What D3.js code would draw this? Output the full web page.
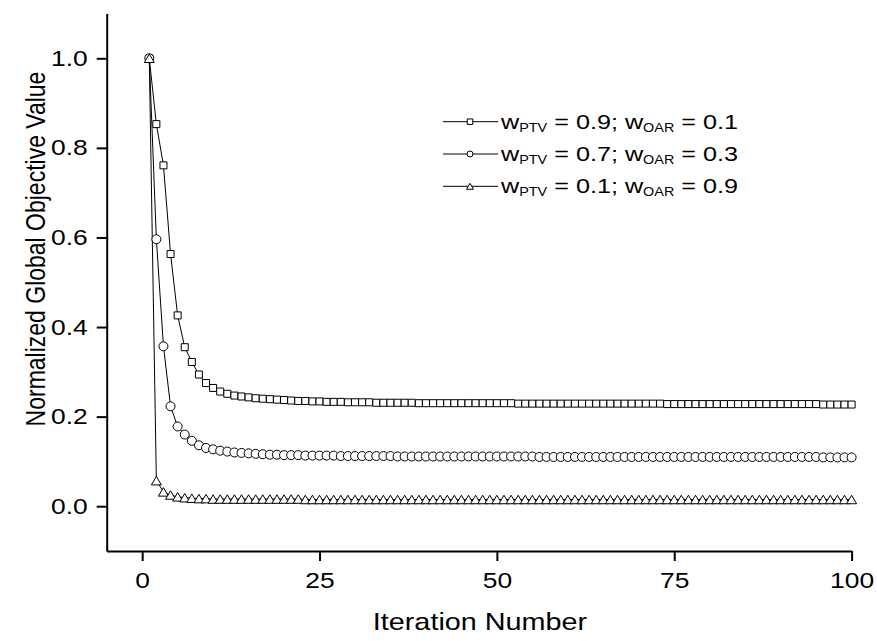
<!DOCTYPE html>
<html>
<head>
<meta charset="utf-8">
<script src="https://cdn.jsdelivr.net/npm/d3@7"></script>
<style>
body { margin: 0; background: #fff; }
svg { display: block; font-family: "Liberation Sans", Arial, sans-serif; }
</style>
</head>
<body>
<svg id="chart" width="877" height="641"></svg>
<script>
"use strict";

// ---- data ----
var iterations = d3.range(1, 101);

var wPtv09 = [
    1.000, 0.853, 0.761, 0.563, 0.426, 0.355, 0.322, 0.294, 0.275, 0.264,
    0.256, 0.251, 0.247, 0.245, 0.243, 0.241, 0.240, 0.239, 0.238, 0.237,
    0.236, 0.235, 0.235, 0.234, 0.234, 0.233, 0.233, 0.233, 0.232, 0.232,
    0.232, 0.232, 0.231, 0.231, 0.231, 0.231, 0.231, 0.231, 0.230, 0.230,
    0.230, 0.230, 0.230, 0.230, 0.230, 0.230, 0.230, 0.230, 0.230, 0.230,
    0.230, 0.230, 0.229, 0.229, 0.229, 0.229, 0.229, 0.229, 0.229, 0.229,
    0.229, 0.229, 0.229, 0.229, 0.229, 0.229, 0.229, 0.229, 0.229, 0.229,
    0.229, 0.229, 0.229, 0.228, 0.228, 0.228, 0.228, 0.228, 0.228, 0.228,
    0.228, 0.228, 0.228, 0.228, 0.228, 0.228, 0.228, 0.228, 0.228, 0.228,
    0.228, 0.228, 0.228, 0.228, 0.228, 0.227, 0.227, 0.227, 0.227, 0.227
];

var wPtv07 = [
    1.000, 0.596, 0.357, 0.223, 0.178, 0.160, 0.146, 0.136, 0.130, 0.127,
    0.124, 0.122, 0.120, 0.119, 0.118, 0.117, 0.116, 0.115, 0.115, 0.114,
    0.114, 0.114, 0.113, 0.113, 0.113, 0.113, 0.113, 0.112, 0.112, 0.112,
    0.112, 0.112, 0.112, 0.112, 0.112, 0.111, 0.111, 0.111, 0.111, 0.111,
    0.111, 0.111, 0.111, 0.111, 0.111, 0.111, 0.111, 0.111, 0.111, 0.111,
    0.111, 0.111, 0.111, 0.111, 0.111, 0.110, 0.110, 0.110, 0.110, 0.110,
    0.110, 0.110, 0.110, 0.110, 0.110, 0.110, 0.110, 0.110, 0.110, 0.110,
    0.110, 0.110, 0.110, 0.110, 0.110, 0.110, 0.110, 0.110, 0.110, 0.110,
    0.110, 0.110, 0.110, 0.110, 0.110, 0.110, 0.110, 0.110, 0.110, 0.110,
    0.110, 0.110, 0.110, 0.110, 0.110, 0.109, 0.109, 0.109, 0.109, 0.109
];

var wPtv01 = [
    1.000, 0.057, 0.032, 0.025, 0.021, 0.019, 0.018, 0.017, 0.017, 0.016,
    0.016, 0.016, 0.016, 0.016, 0.016, 0.016, 0.016, 0.016, 0.016, 0.016,
    0.016, 0.016, 0.015, 0.015, 0.015, 0.015, 0.015, 0.015, 0.015, 0.015,
    0.015, 0.015, 0.015, 0.015, 0.015, 0.015, 0.015, 0.015, 0.015, 0.015,
    0.015, 0.015, 0.015, 0.015, 0.015, 0.015, 0.015, 0.015, 0.015, 0.015,
    0.015, 0.015, 0.015, 0.015, 0.015, 0.015, 0.015, 0.015, 0.015, 0.015,
    0.015, 0.015, 0.015, 0.015, 0.015, 0.015, 0.015, 0.015, 0.015, 0.015,
    0.015, 0.015, 0.015, 0.015, 0.015, 0.015, 0.015, 0.015, 0.015, 0.015,
    0.015, 0.015, 0.015, 0.015, 0.015, 0.015, 0.015, 0.015, 0.015, 0.015,
    0.015, 0.015, 0.015, 0.015, 0.015, 0.015, 0.015, 0.015, 0.015, 0.015
];

var xTicks = [0, 25, 50, 75, 100];
var xMinorTicks = [12.5, 37.5, 62.5, 87.5];
var yTicks = [0.0, 0.2, 0.4, 0.6, 0.8, 1.0];
var yMinorTicks = [-0.1, 0.1, 0.3, 0.5, 0.7, 0.9, 1.1];

var legendPtv = ["0.9", "0.7", "0.1"];
var legendOar = ["0.1", "0.3", "0.9"];
var symbols = ["square", "circle", "triangle"];

// ---- setup ----
var svg = d3.select("#chart");
var STRETCH = 1.2;   // the original text is a bit wider than plain Arial

var x = d3.scaleLinear().domain([-5, 100]).range([106.7, 851.6]);
var y = d3.scaleLinear().domain([-0.1, 1.1]).range([551, 13.5]);

function stretch(sel, s) {
    sel.each(function () {
        var t = d3.select(this);
        var tx = +t.attr("x") || 0, ty = +t.attr("y") || 0;
        t.attr("transform", "translate(" + tx + "," + ty + ") scale(" + s + ",1) translate(" + (-tx) + "," + (-ty) + ")");
    });
}

function symbolPath(kind, size) {
    // size is the full width of the marker
    var h = size / 2;
    if (kind == "square") {
        return "M" + (-h) + "," + (-h) + "H" + h + "V" + h + "H" + (-h) + "Z";
    } else if (kind == "circle") {
        return "M" + (-h) + ",0A" + h + "," + h + " 0 1,0 " + h + ",0A" + h + "," + h + " 0 1,0 " + (-h) + ",0Z";
    }
    var th = size * 0.85 / 2;
    return "M0," + (-th) + "L" + h + "," + th + "L" + (-h) + "," + th + "Z";
}

// ---- axes ----
var gx = svg.append("g").attr("transform", "translate(0,551)");
gx.call(d3.axisBottom(x).tickValues(xMinorTicks).tickSize(5).tickSizeOuter(0).tickFormat(""));
gx.call(d3.axisBottom(x).tickValues(xTicks).tickSize(10).tickSizeOuter(0).tickPadding(11).tickFormat(d3.format("d")));

var gy = svg.append("g").attr("transform", "translate(106.7,0)");
gy.call(d3.axisLeft(y).tickValues(yMinorTicks).tickSize(5).tickSizeOuter(0).tickFormat(""));
gy.call(d3.axisLeft(y).tickValues(yTicks).tickSize(10).tickSizeOuter(0).tickPadding(9).tickFormat(d3.format(".1f")));

svg.selectAll(".domain, .tick line").attr("stroke", "#000").attr("stroke-width", 2);
svg.selectAll(".tick text")
    .attr("font-family", "Liberation Sans, Arial, sans-serif")
    .attr("font-size", 22)
    .attr("fill", "#000")
    .call(stretch, STRETCH);

// axis titles
svg.append("text")
    .attr("x", 480).attr("y", 630)
    .attr("text-anchor", "middle")
    .attr("font-size", 24)
    .text("Iteration Number")
    .call(stretch, STRETCH);

svg.append("text")
    .attr("transform", "translate(45,249) scale(" + STRETCH + ",1) rotate(-90)")
    .attr("text-anchor", "middle")
    .attr("font-size", 23)
    .text("Normalized Global Objective Value");

// ---- series ----
var series = [wPtv09, wPtv07, wPtv01];
var line = d3.line()
    .x(function (d, i) { return x(iterations[i]); })
    .y(function (d) { return y(d); });

series.forEach(function (vals) {
    svg.append("path")
        .datum(vals)
        .attr("fill", "none")
        .attr("stroke", "#000")
        .attr("stroke-width", 1)
        .attr("d", line);
});

var markerSize = { square: 7, circle: 9, triangle: 10 };
series.forEach(function (vals, k) {
    svg.append("g").selectAll("path")
        .data(vals)
        .join("path")
        .attr("transform", function (d, i) { return "translate(" + x(iterations[i]) + "," + y(d) + ")"; })
        .attr("d", symbolPath(symbols[k], markerSize[symbols[k]]))
        .attr("fill", "#fff")
        .attr("stroke", "#000")
        .attr("stroke-width", 1);
});

// ---- legend ----
var legend = svg.append("g");
var legendSize = { square: 5.5, circle: 6, triangle: 7 };
legendPtv.forEach(function (ptv, i) {
    var ly = 121.7 + i * 32.3;
    legend.append("line")
        .attr("x1", 443).attr("x2", 498)
        .attr("y1", ly).attr("y2", ly)
        .attr("stroke", "#000").attr("stroke-width", 1);
    legend.append("path")
        .attr("transform", "translate(470," + ly + ")")
        .attr("d", symbolPath(symbols[i], legendSize[symbols[i]]))
        .attr("fill", "#fff").attr("stroke", "#000").attr("stroke-width", 1);

    var t = legend.append("text")
        .attr("x", 501).attr("y", ly + 7)
        .attr("font-size", 21);
    t.append("tspan").text("w");
    t.append("tspan").attr("font-size", 12).attr("dy", 3).text("PTV");
    t.append("tspan").attr("dy", -3).text(" = " + ptv + "; w");
    t.append("tspan").attr("font-size", 12).attr("dy", 3).text("OAR");
    t.append("tspan").attr("dy", -3).text(" = " + legendOar[i]);
    t.call(stretch, STRETCH);
});
</script>
</body>
</html>
